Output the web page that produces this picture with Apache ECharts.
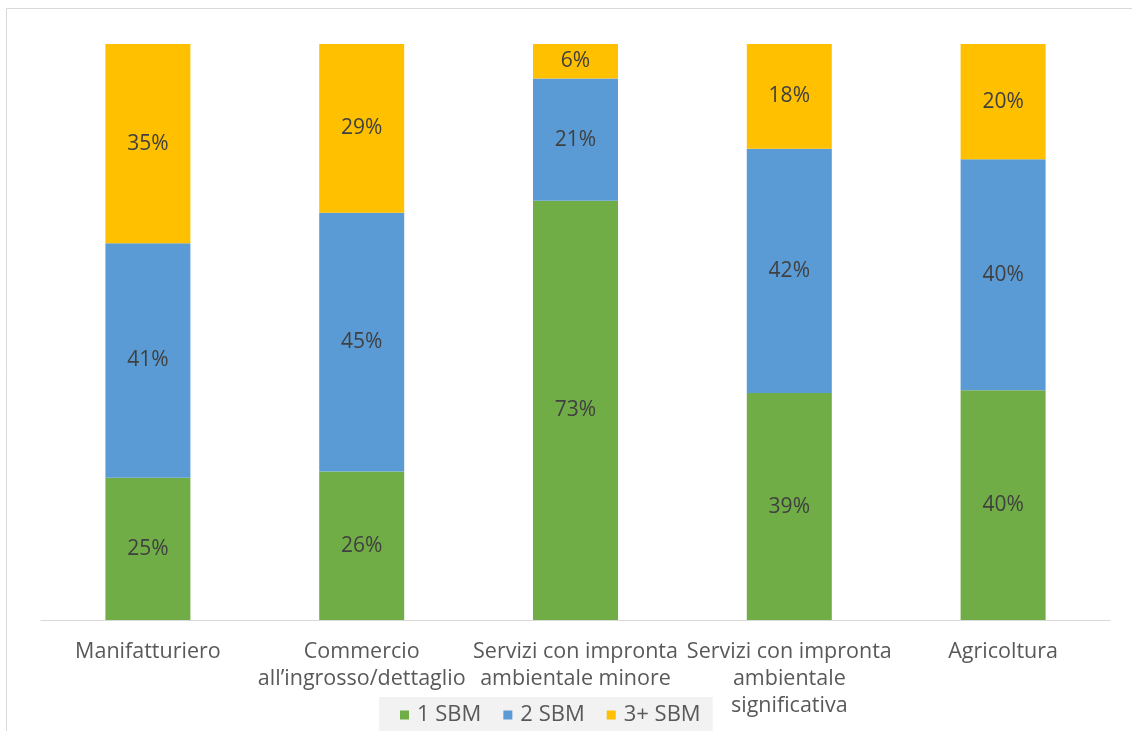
<!DOCTYPE html>
<html>
<head>
<meta charset="utf-8">
<style>
  html, body { margin: 0; padding: 0; background: #ffffff; }
  #chart { width: 1132px; height: 731px; }
</style>
<script src="https://cdn.jsdelivr.net/npm/echarts@6/dist/echarts.min.js"></script>
</head>
<body>
<div id="chart"></div>
<script>
// Sector categories (multi-line axis labels)
const categories = [
  'Manifatturiero',
  'Commercio\nall\u2019ingrosso/dettaglio',
  'Servizi con impronta\nambientale minore',
  'Servizi con impronta\nambientale\nsignificativa',
  'Agricoltura'
];

// Share of firms by number of sustainable business models (percent of sector)
const sbm1 = [24.7, 25.8, 72.8, 39.4, 39.9];
const sbm2 = [40.7, 44.9, 21.2, 42.4, 40.1];
const sbm3plus = [34.6, 29.3, 6.0, 18.2, 20.0];

const seriesNames = ['1 SBM', '2 SBM', '3+ SBM'];
const seriesColors = ['#70ad47', '#5b9bd5', '#ffc000'];
const seriesValues = [sbm1, sbm2, sbm3plus];

const FONT = 'Open Sans';

const chart = echarts.init(document.getElementById('chart'), null, { renderer: 'canvas' });

chart.setOption({
  backgroundColor: '#ffffff',
  animation: false,
  graphic: [{
    type: 'rect',
    silent: true,
    z: -1,
    shape: { x: 6.5, y: 8.5, width: 1200, height: 800 },
    style: { fill: 'none', stroke: '#d9d9d9', lineWidth: 1 }
  }],
  grid: { left: 41, right: 22, top: 44, bottom: 111, containLabel: false },
  legend: {
    data: seriesNames,
    left: 379,
    top: 697,
    icon: 'rect',
    itemWidth: 9,
    itemHeight: 9,
    itemGap: 22,
    padding: [7, 12, 20, 21],
    backgroundColor: '#f2f2f2',
    textStyle: { fontFamily: FONT, fontSize: 22, color: '#595959', padding: [0, 0, 0, 3] }
  },
  xAxis: {
    type: 'category',
    data: categories,
    axisLine: { show: true, lineStyle: { color: '#d9d9d9', width: 1 } },
    axisTick: { show: false },
    axisLabel: {
      interval: 0,
      margin: 18,
      fontFamily: FONT,
      fontSize: 21.5,
      lineHeight: 27,
      color: '#595959'
    }
  },
  yAxis: {
    type: 'value',
    min: 0,
    max: 100,
    show: false,
    splitLine: { show: false }
  },
  series: seriesNames.map((name, i) => ({
    name: name,
    type: 'bar',
    stack: 'total',
    barWidth: 85,
    data: seriesValues[i],
    itemStyle: { color: seriesColors[i] },
    label: {
      show: true,
      position: 'inside',
      fontFamily: FONT,
      fontSize: 21,
      color: '#404040',
      formatter: p => Math.round(p.value) + '%'
    }
  }))
});
</script>
</body>
</html>
